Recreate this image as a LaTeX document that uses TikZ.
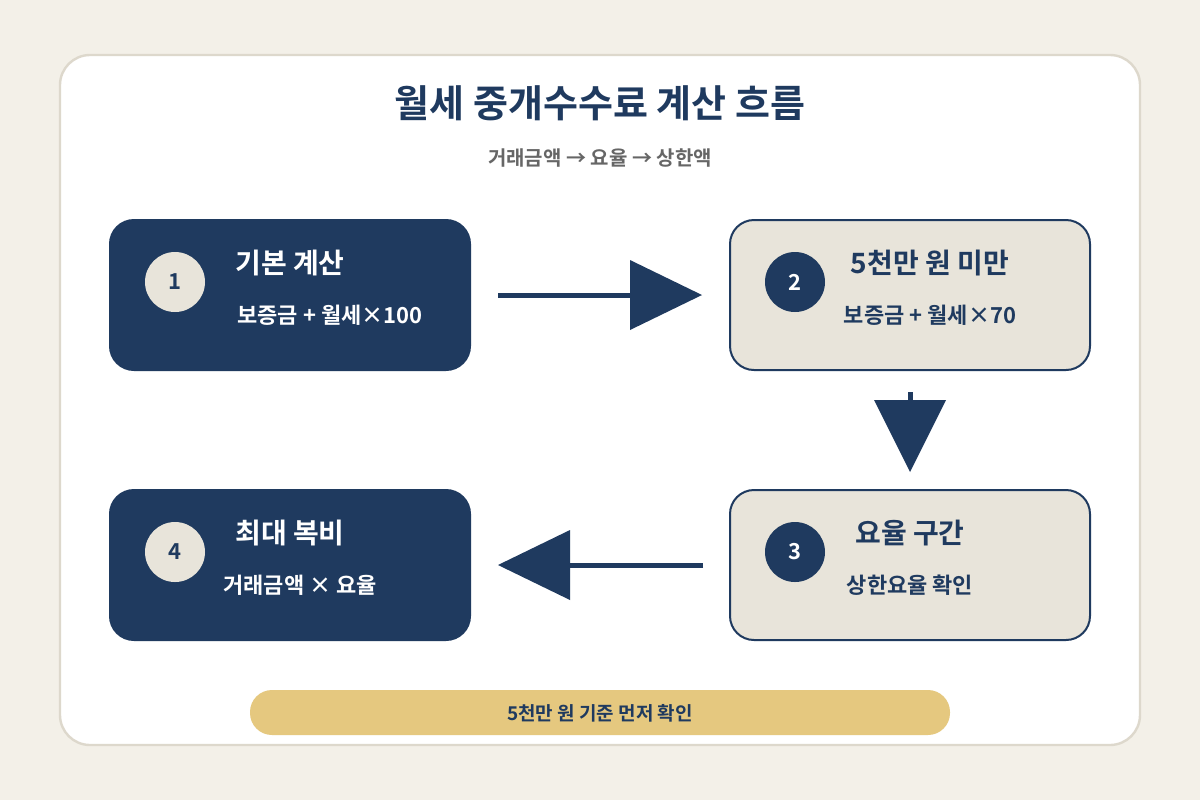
\documentclass[tikz,border=0pt]{standalone}
\usepackage{fontspec}
\setmainfont{Noto Sans CJK KR}[BoldFont={Noto Sans CJK KR Bold}]
\begin{document}
\begin{tikzpicture}[x=0.5pt,y=-0.5pt,
  navy/.style={fill={rgb,255:red,31;green,58;blue,95}},
  box/.style={rounded corners=12pt,line width=1pt},
  num/.style={circle,minimum size=30pt,inner sep=0pt,font=\bfseries\fontsize{11}{13}\selectfont},
  ttl/.style={font=\bfseries\fontsize{14}{16}\selectfont},
  sub/.style={font=\bfseries\fontsize{11}{13}\selectfont},
  arr/.style={draw=nv,line width=2.5pt},
  head/.style={fill=nv}]
\definecolor{nv}{RGB}{31,58,95}
\definecolor{bg}{RGB}{243,240,232}
\definecolor{lt}{RGB}{232,228,218}
\definecolor{gd}{RGB}{229,200,127}
\definecolor{bd}{RGB}{221,216,204}
\fill[bg] (0,0) rectangle (1200,800);
\useasboundingbox (0,0) rectangle (1200,800);
\draw[fill=white,draw=bd,line width=1.2pt,rounded corners=15pt] (60,55) rectangle (1140,745);
\node[text=nv,font=\bfseries\fontsize{19}{22}\selectfont] (title) at (600,103) {월세 중개수수료 계산 흐름};
\node[text=black!60,font=\bfseries\fontsize{10}{12}\selectfont] (subt) at (600,158) {거래금액 → 요율 → 상한액};
% boxes
\draw[box,fill=nv,draw=nv] (110,220) rectangle (470,370);
\draw[box,fill=lt,draw=nv] (730,220) rectangle (1090,370);
\draw[box,fill=lt,draw=nv] (730,490) rectangle (1090,640);
\draw[box,fill=nv,draw=nv] (110,490) rectangle (470,640);
\node[num,fill=lt,text=nv] (n1) at (175,282) {1};
\node[num,fill=nv,text=white] (n2) at (795,282) {2};
\node[num,fill=nv,text=white] (n3) at (795,552) {3};
\node[num,fill=lt,text=nv] (n4) at (175,552) {4};
\node[ttl,text=white] (t1) at (290,263) {기본 계산};
\node[sub,text=white] (s1) at (330,315) {보증금 + 월세×100};
\node[ttl,text=nv] (t2) at (930,263) {5천만 원 미만};
\node[sub,text=nv] (s2) at (930,315) {보증금 + 월세×70};
\node[ttl,text=nv] (t3) at (910,533) {요율 구간};
\node[sub,text=nv] (s3) at (910,585) {상한요율 확인};
\node[ttl,text=white] (t4) at (290,533) {최대 복비};
\node[sub,text=white] (s4) at (300,585) {거래금액 × 요율};
% arrows
\coordinate (a1s) at (498,295); \coordinate (a1e) at (632,295);
\draw[arr] (a1s) -- (a1e);
\fill[nv] (630,260) -- (702,295) -- (630,330) -- cycle;
\coordinate (a2s) at (910,392); \coordinate (a2e) at (910,402);
\draw[arr] (a2s) -- (a2e);
\fill[nv] (874,400) -- (946,400) -- (910,472) -- cycle;
\coordinate (a3s) at (703,565); \coordinate (a3e) at (568,565);
\draw[arr] (a3s) -- (a3e);
\fill[nv] (570,530) -- (498,565) -- (570,600) -- cycle;
% banner
\fill[gd,rounded corners=11pt] (250,690) rectangle (950,735);
\node[text=nv,font=\bfseries\fontsize{9.5}{11}\selectfont] (ban) at (600,713) {5천만 원 기준 먼저 확인};
\end{tikzpicture}
\end{document}
